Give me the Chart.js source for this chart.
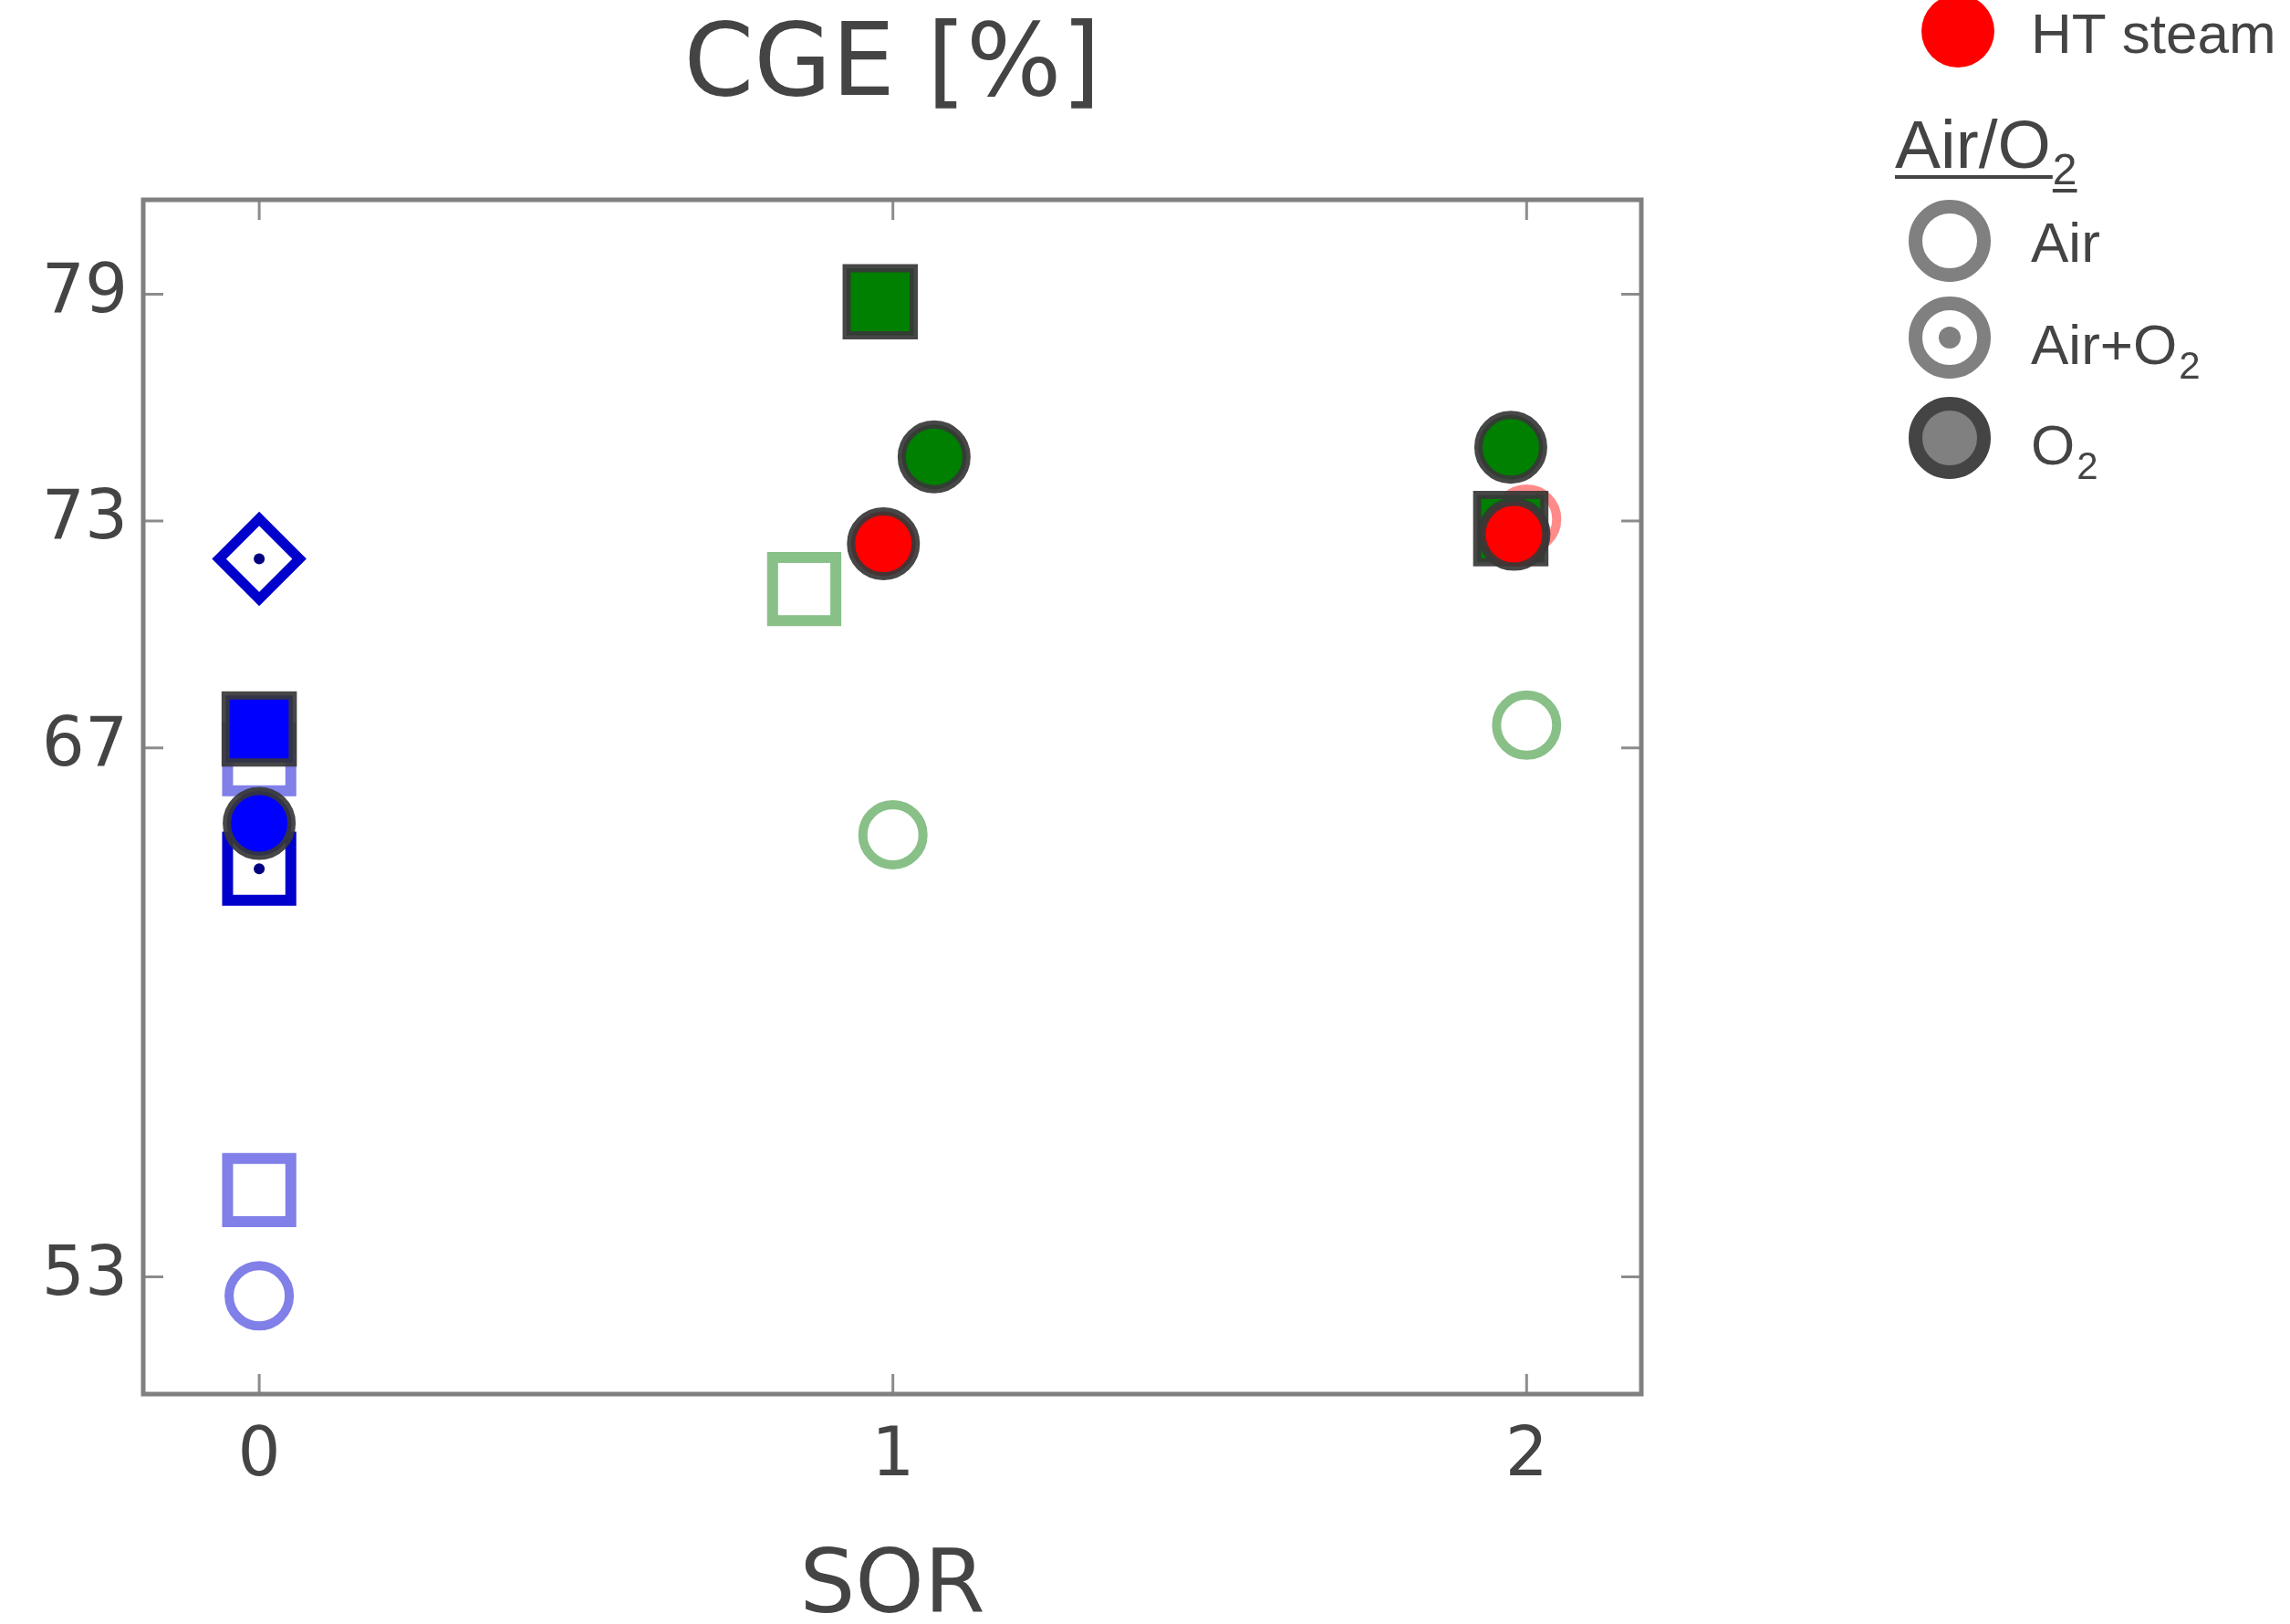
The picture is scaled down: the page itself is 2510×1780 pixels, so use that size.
<!DOCTYPE html>
<html>
<head>
<meta charset="utf-8">
<script src="https://cdn.jsdelivr.net/npm/chart.js@4.4.1/dist/chart.umd.min.js"></script>
<style>
  html, body { margin: 0; padding: 0; background: #fff; }
  #cge-chart { display: block; }
</style>
</head>
<body>
<canvas id="cge-chart" width="2510" height="1780"></canvas>
<script>
// [SOR, CGE %, marker shape]
var blueAir    = [[0, 66.7, 'rect'], [0, 55.3, 'rect'], [0, 52.5, 'circle']];
var blueAirO2  = [[0, 72.0, 'rectRot'], [0, 63.8, 'rect']];
var blueO2     = [[0, 67.5, 'rect'], [0, 65.0, 'circle']];
var greenAir   = [[0.86, 71.2, 'rect'], [1.0, 64.7, 'circle'], [2.0, 67.6, 'circle']];
var greenO2    = [[0.98, 78.8, 'rect'], [1.065, 74.7, 'circle'], [1.975, 74.95, 'circle'], [1.975, 72.8, 'rect']];
var redAir     = [[2.0, 73.05, 'circle']];
var redO2      = [[0.985, 72.4, 'circle'], [1.98, 72.65, 'circle']];

var xTicks = [0, 1, 2];
var yTicks = [53, 67, 73, 79];

var textColor = '#444444';
var edgeDark = 'rgba(55, 55, 55, 0.92)';

// marker sizes per gas mode: [radius, border]
var sizes = {
  air:   { circle: [33, 10], rect: [49, 12], rectRot: [44, 10] },
  airO2: { circle: [33, 10], rect: [49, 12], rectRot: [44, 11] },
  o2:    { circle: [35.5, 9], rect: [52, 9], rectRot: [44, 9] }
};

function pts(list) {
  return list.map(function(p) { return { x: p[0], y: p[1] }; });
}

function series(list, mode, fill, edge, order) {
  return {
    data: pts(list),
    showLine: false,
    order: order,
    pointStyle: list.map(function(p) { return p[2]; }),
    pointRadius: list.map(function(p) { return sizes[mode][p[2]][0]; }),
    pointBorderWidth: list.map(function(p) { return sizes[mode][p[2]][1]; }),
    pointBackgroundColor: fill,
    pointBorderColor: edge
  };
}

function dots(list, color) {
  return {
    data: pts(list),
    showLine: false,
    order: 1,
    pointStyle: 'circle',
    pointRadius: 6,
    pointBorderWidth: 0,
    pointBackgroundColor: color
  };
}

var frame = {
  id: 'frame',
  beforeDatasetsDraw: function(chart) {
    var ctx = chart.ctx, a = chart.chartArea, x = chart.scales.x, y = chart.scales.y;
    ctx.save();
    ctx.strokeStyle = '#8c8c8c';
    ctx.lineWidth = 3;
    ctx.beginPath();
    xTicks.forEach(function(v) {
      var px = x.getPixelForValue(v);
      ctx.moveTo(px, a.top); ctx.lineTo(px, a.top + 22);
      ctx.moveTo(px, a.bottom); ctx.lineTo(px, a.bottom - 22);
    });
    yTicks.forEach(function(v) {
      var py = y.getPixelForValue(v);
      ctx.moveTo(a.left, py); ctx.lineTo(a.left + 22, py);
      ctx.moveTo(a.right, py); ctx.lineTo(a.right - 22, py);
    });
    ctx.stroke();
    ctx.strokeStyle = '#808080';
    ctx.lineWidth = 5;
    ctx.strokeRect(a.left, a.top, a.right - a.left, a.bottom - a.top);
    ctx.restore();
  }
};

// legend on the right: colour key (only HT steam left) and Air/O2 key
var sideLegend = {
  id: 'sideLegend',
  afterDraw: function(chart) {
    var ctx = chart.ctx;
    ctx.save();
    ctx.textBaseline = 'alphabetic';
    ctx.textAlign = 'left';

    ctx.fillStyle = '#ff0000';
    ctx.beginPath();
    ctx.arc(2146, 34, 40, 0, Math.PI * 2);
    ctx.fill();

    ctx.fillStyle = textColor;
    ctx.font = '62px "Liberation Sans"';
    ctx.fillText('HT steam', 2226, 58);

    // header Air/O2, underlined
    ctx.font = '75px "Liberation Sans"';
    ctx.fillText('Air/O', 2077, 184);
    var w = ctx.measureText('Air/O').width;
    ctx.font = '48px "Liberation Sans"';
    ctx.fillText('2', 2077 + w + 2, 202);
    var w2 = ctx.measureText('2').width;
    ctx.fillRect(2077, 192, w + 2, 4);
    ctx.fillRect(2077 + w + 2, 207, w2, 4);

    var marks = [
      { label: 'Air', sub: '', y: 264, ty: 287, fill: '#ffffff', edge: '#808080', dot: false },
      { label: 'Air+O', sub: '2', y: 370, ty: 399, fill: '#ffffff', edge: '#808080', dot: true },
      { label: 'O', sub: '2', y: 480, ty: 509, fill: '#808080', edge: '#444444', dot: false }
    ];
    marks.forEach(function(m) {
      ctx.beginPath();
      ctx.arc(2137, m.y, 37.5, 0, Math.PI * 2);
      ctx.fillStyle = m.fill;
      ctx.fill();
      ctx.lineWidth = 15;
      ctx.strokeStyle = m.edge;
      ctx.stroke();
      if (m.dot) {
        ctx.beginPath();
        ctx.arc(2137, m.y, 12, 0, Math.PI * 2);
        ctx.fillStyle = '#808080';
        ctx.fill();
      }
      ctx.fillStyle = textColor;
      ctx.font = '62px "Liberation Sans"';
      ctx.fillText(m.label, 2226, m.ty);
      if (m.sub) {
        var lw = ctx.measureText(m.label).width;
        ctx.font = '42px "Liberation Sans"';
        ctx.fillText(m.sub, 2226 + lw + 2, m.ty + 16);
      }
    });
    ctx.restore();
  }
};

Chart.defaults.font.family = '"DejaVu Sans", Verdana, sans-serif';
Chart.defaults.color = textColor;

var cgeChart = new Chart(document.getElementById('cge-chart'), {
  type: 'scatter',
  data: {
    datasets: [
      series(blueAir, 'air', '#ffffff', '#8080e8', 7),
      series(greenAir, 'air', '#ffffff', '#88c088', 7),
      series(redAir, 'air', 'rgba(255,255,255,0.6)', 'rgba(255, 60, 60, 0.6)', 7),
      series(blueAirO2, 'airO2', '#ffffff', '#0000cc', 5),
      dots(blueAirO2, '#000080'),
      series(greenO2, 'o2', '#008000', edgeDark, 4),
      series(blueO2, 'o2', '#0000ff', edgeDark, 3),
      series(redO2, 'o2', '#ff0000', edgeDark, 2)
    ]
  },
  options: {
    responsive: false,
    animation: false,
    events: [],
    devicePixelRatio: 1,
    layout: { padding: { left: 0, right: 711, top: 0, bottom: 0 } },
    plugins: {
      legend: { display: false },
      tooltip: { enabled: false },
      title: {
        display: true,
        text: 'CGE [%]',
        fullSize: false,
        color: textColor,
        font: { size: 110, weight: 'normal', lineHeight: 1 },
        padding: { top: 20, bottom: 89 }
      }
    },
    scales: {
      x: {
        type: 'linear',
        min: -0.183,
        max: 2.181,
        afterBuildTicks: function(scale) {
          scale.ticks = xTicks.map(function(v) { return { value: v }; });
        },
        afterFit: function(scale) { scale.height = 252; },
        grid: { display: false, drawTicks: false },
        border: { display: false },
        ticks: { color: textColor, font: { size: 74, lineHeight: 1 }, padding: 33, maxRotation: 0 },
        title: {
          display: true,
          text: 'SOR',
          color: textColor,
          font: { size: 96, lineHeight: 0.8 },
          padding: { top: 0, bottom: 0 }
        }
      },
      y: {
        min: 49.9,
        max: 81.5,
        afterBuildTicks: function(scale) {
          scale.ticks = yTicks.map(function(v) { return { value: v }; });
        },
        afterFit: function(scale) { scale.width = 157; },
        grid: { display: false, drawTicks: false },
        border: { display: false },
        ticks: { color: textColor, font: { size: 74, lineHeight: 1 }, padding: 17 }
      }
    }
  },
  plugins: [frame, sideLegend]
});
</script>
</body>
</html>
